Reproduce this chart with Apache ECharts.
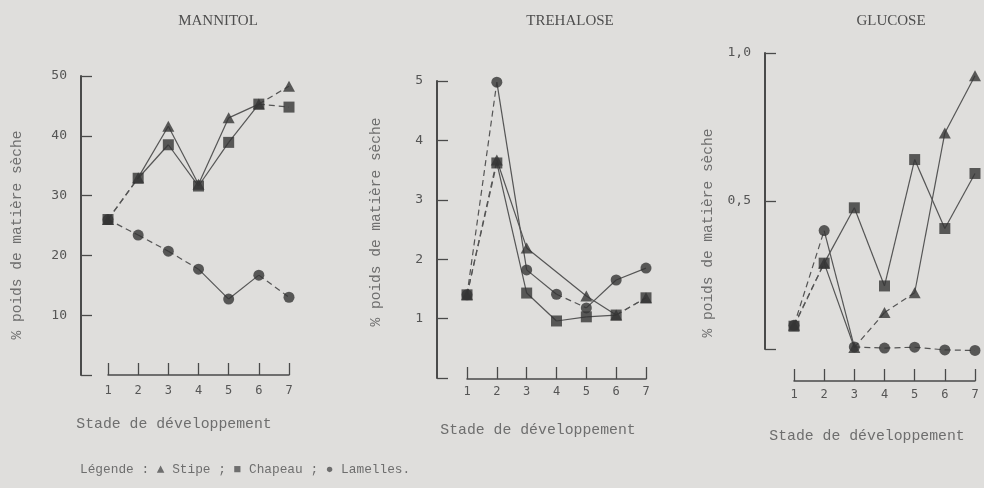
<!DOCTYPE html>
<html>
<head>
<meta charset="utf-8">
<script src="https://cdn.jsdelivr.net/npm/echarts@6/dist/echarts.min.js"></script>
<style>
  html, body { margin: 0; padding: 0; background: #dfdedc; }
  #chart { width: 984px; height: 488px; }
</style>
</head>
<body>
<div id="chart"></div>
<script>
// Stades de développement (axe horizontal)
const stages = [1, 2, 3, 4, 5, 6, 7];
const stageLabels = ['1', '2', '3', '4', '5', '6', '7'];

// Mannitol, % poids de matière sèche
const mannitolStipe    = [26.0, 33.0, 41.6, 31.9, 43.0, 45.3, 48.3];
const mannitolChapeau  = [26.0, 32.9, 38.5, 31.6, 38.9, 45.3, 44.8];
const mannitolLamelles = [26.0, 23.4, 20.7, 17.7, 12.7, 16.7, 13.0];

// Tréhalose
const trehaloseStipe    = [1.40, 3.67, 2.19, null, 1.38, 1.06, 1.35];
const trehaloseChapeau  = [1.40, 3.62, 1.43, 0.96, 1.03, 1.06, 1.35];
const trehaloseLamelles = [1.40, 4.98, 1.82, 1.41, 1.18, 1.65, 1.85];

// Glucose
const glucoseStipe    = [0.080, 0.290, 0.005, 0.123, 0.190, 0.730, 0.923];
const glucoseChapeau  = [0.077, 0.290, 0.477, 0.213, 0.640, 0.407, 0.593];
const glucoseLamelles = [0.080, 0.400, 0.007, 0.003, 0.006, -0.003, -0.005];

// Graduations des axes verticaux
const mannitolTicks  = [0, 10, 20, 30, 40, 50];
const trehaloseTicks = [0, 1, 2, 3, 4, 5];
const glucoseTicks   = [0, 0.5, 1.0];

const seriesNames = ['Stipe', 'Chapeau', 'Lamelles'];

// Tracé des segments : 1 = tirets, 0 = trait plein (segment i -> suivant)
const segmentDash = [
  [[1, 0, 0, 0, 0, 1], [1, 0, 0, 0, 0, 1], [1, 1, 1, 0, 0, 1]],
  [[1, 0, 0, 0, 0, 1], [1, 0, 0, 0, 0, 1], [1, 0, 0, 1, 0, 0]],
  [[1, 0, 1, 1, 0, 0], [1, 0, 0, 0, 0, 0], [1, 0, 1, 1, 1, 1]]
];

const INK = '#353535';
const LINE = '#555555';
const AXIS = '#4a4a4a';
const TEXT = '#6e6e6e';

const panels = [
  {
    title: 'MANNITOL', titleX: 218,
    values: [mannitolStipe, mannitolChapeau, mannitolLamelles],
    ticks: mannitolTicks,
    grid: { left: 108, top: 76, width: 181, height: 299 },
    yOffset: 27, xOffset: 0, xLabelMargin: 10,
    yName: { x: 17, y: 235 }, xName: { x: 174, y: 424 },
    fmt: v => (v === 0 ? '' : String(v))
  },
  {
    title: 'TREHALOSE', titleX: 570,
    values: [trehaloseStipe, trehaloseChapeau, trehaloseLamelles],
    ticks: trehaloseTicks,
    grid: { left: 467, top: 81, width: 179, height: 297 },
    yOffset: 30, xOffset: 1, xLabelMargin: 7,
    yName: { x: 376, y: 222 }, xName: { x: 538, y: 430 },
    fmt: v => (v === 0 ? '' : String(v))
  },
  {
    title: 'GLUCOSE', titleX: 891,
    values: [glucoseStipe, glucoseChapeau, glucoseLamelles],
    ticks: glucoseTicks,
    grid: { left: 794, top: 53, width: 181, height: 296 },
    yOffset: 29, xOffset: 32, xLabelMargin: 8,
    yName: { x: 708, y: 233 }, xName: { x: 867, y: 436 },
    fmt: v => (v === 0 ? '' : v.toFixed(1).replace('.', ','))
  }
];

const markers = [
  { symbol: 'triangle', size: [12, 11], z: 4 },
  { symbol: 'rect', size: 11, z: 6 },
  { symbol: 'circle', size: 11, z: 5 }
];

const grids = [], xAxes = [], yAxes = [], series = [], graphics = [];

panels.forEach((p, pi) => {
  grids.push(Object.assign({ containLabel: false }, p.grid));
  const ticks = p.ticks;
  xAxes.push({
    type: 'value', gridIndex: pi, min: 1, max: 7, interval: 1,
    offset: p.xOffset,
    axisLine: { show: true, onZero: false, lineStyle: { color: AXIS, width: 1.5 } },
    axisTick: { show: true, inside: true, length: 12, lineStyle: { color: AXIS, width: 1.3 } },
    axisLabel: {
      margin: p.xLabelMargin, color: '#555', fontSize: 12,
      fontFamily: 'DejaVu Sans Mono', formatter: v => stageLabels[v - 1] || ''
    },
    splitLine: { show: false }
  });
  yAxes.push({
    type: 'value', gridIndex: pi,
    min: ticks[0], max: ticks[ticks.length - 1], interval: ticks[1] - ticks[0],
    offset: p.yOffset,
    axisLine: { show: true, onZero: false, lineStyle: { color: AXIS, width: 2 } },
    axisTick: { show: true, inside: true, length: 11, lineStyle: { color: AXIS, width: 1.3 } },
    axisLabel: {
      margin: 14, color: '#555', fontSize: 13, fontFamily: 'DejaVu Sans Mono',
      formatter: p.fmt
    },
    splitLine: { show: false }
  });

  p.values.forEach((vals, si) => {
    const present = vals.map((v, i) => (v == null ? -1 : i)).filter(i => i >= 0);
    for (let k = 0; k < present.length - 1; k++) {
      const a = present[k], b = present[k + 1];
      const dashed = segmentDash[pi][si][a] === 1;
      series.push({
        type: 'line', name: seriesNames[si], xAxisIndex: pi, yAxisIndex: pi,
        clip: false, silent: true, animation: false, symbol: 'none', z: 2,
        lineStyle: { color: LINE, width: 1.2, type: dashed ? [6, 4] : 'solid' },
        data: [[stages[a], vals[a]], [stages[b], vals[b]]]
      });
    }
    const m = markers[si];
    series.push({
      type: 'scatter', name: seriesNames[si], xAxisIndex: pi, yAxisIndex: pi,
      clip: false, silent: true, animation: false, z: m.z,
      symbol: m.symbol, symbolSize: m.size,
      itemStyle: { color: INK },
      data: present.map(i => [stages[i], vals[i]])
    });
  });

  graphics.push({
    type: 'text', x: p.titleX, y: 21,
    style: { text: p.title, font: '15px "Liberation Serif"', fill: '#4e4e4e',
             align: 'center', verticalAlign: 'middle' }
  });
  graphics.push({
    type: 'text', x: p.yName.x, y: p.yName.y, rotation: Math.PI / 2,
    style: { text: '% poids de matière sèche', font: '14.5px "Liberation Mono"', fill: TEXT,
             align: 'center', verticalAlign: 'middle' }
  });
  graphics.push({
    type: 'text', x: p.xName.x, y: p.xName.y,
    style: { text: 'Stade de développement', font: '14.8px "Liberation Mono"', fill: TEXT,
             align: 'center', verticalAlign: 'middle' }
  });
});

graphics.push({
  type: 'text', x: 80, y: 470,
  style: { text: 'Légende : ▲ Stipe ; ■ Chapeau ; ● Lamelles.', font: '12.8px "Liberation Mono"',
           fill: TEXT, align: 'left', verticalAlign: 'middle' }
});

const chart = echarts.init(document.getElementById('chart'), null, { renderer: 'canvas' });
chart.setOption({
  backgroundColor: '#dfdedc',
  animation: false,
  grid: grids,
  xAxis: xAxes,
  yAxis: yAxes,
  series: series,
  graphic: graphics
});
</script>
</body>
</html>
